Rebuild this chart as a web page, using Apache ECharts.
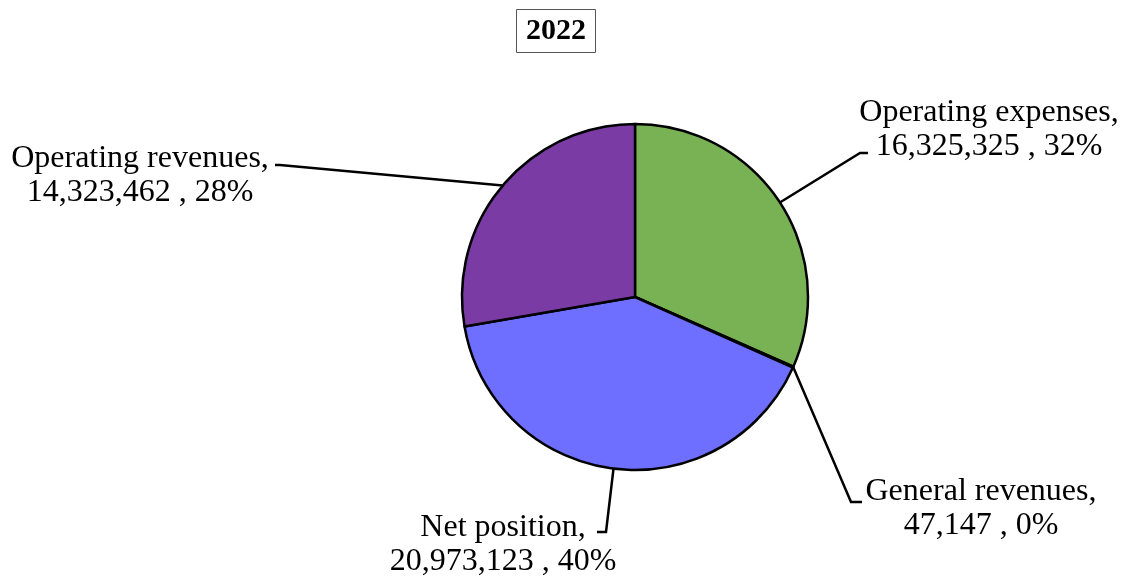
<!DOCTYPE html>
<html>
<head>
<meta charset="utf-8">
<script src="https://cdn.jsdelivr.net/npm/echarts@6/dist/echarts.min.js"></script>
<style>
  html, body { margin: 0; padding: 0; background: #fff; }
  #chart { width: 1123px; height: 578px; }
</style>
</head>
<body>
<div id="chart"></div>
<script>
// data
const names = ['Operating expenses', 'General revenues', 'Net position', 'Operating revenues'];
const values = [16325325, 47147, 20973123, 14323462];
const colors = ['#79B155', '#79B155', '#6E6EFF', '#7A3CA4'];

// label placement: text anchor + bend points of the leader line
const labelSpots = [
  { x: 989, y: 130, bend: [[860, 153], [868, 153]] },
  { x: 981, y: 509, bend: [[851, 502], [862, 502]] },
  { x: 503, y: 545, bend: [[606, 532], [597, 532]] },
  { x: 140, y: 176, bend: [[280, 165], [275, 165]] }
];

const chart = echarts.init(document.getElementById('chart'));
chart.setOption({
  animation: false,
  title: {
    text: '2022',
    left: 516,
    top: 9,
    padding: [7, 10, 7, 10],
    borderWidth: 1,
    borderColor: '#555',
    textStyle: {
      fontFamily: 'Liberation Serif',
      fontSize: 30,
      fontWeight: 'bold',
      color: '#000'
    }
  },
  series: [{
    type: 'pie',
    center: [635, 297],
    radius: 173,
    startAngle: 90,
    clockwise: true,
    percentPrecision: 0,
    avoidLabelOverlap: false,
    minShowLabelAngle: 0,
    data: names.map((n, i) => ({
      name: n,
      value: values[i],
      itemStyle: { color: colors[i] }
    })),
    itemStyle: { borderColor: '#000', borderWidth: 2.5 },
    label: {
      show: true,
      position: 'outside',
      fontFamily: 'Liberation Serif',
      fontSize: 32,
      lineHeight: 34,
      color: '#000',
      align: 'center',
      formatter: p => p.name + ',\n' + p.value.toLocaleString('en-US') + ' , ' + p.percent + '%'
    },
    labelLine: {
      show: true,
      lineStyle: { color: '#000', width: 2.5 }
    },
    labelLayout: function (params) {
      const s = labelSpots[params.dataIndex];
      const start = params.labelLinePoints ? params.labelLinePoints[0] : s.bend[0];
      return {
        x: s.x,
        y: s.y,
        align: 'center',
        verticalAlign: 'middle',
        labelLinePoints: [start, s.bend[0], s.bend[1]]
      };
    }
  }]
});
</script>
</body>
</html>
